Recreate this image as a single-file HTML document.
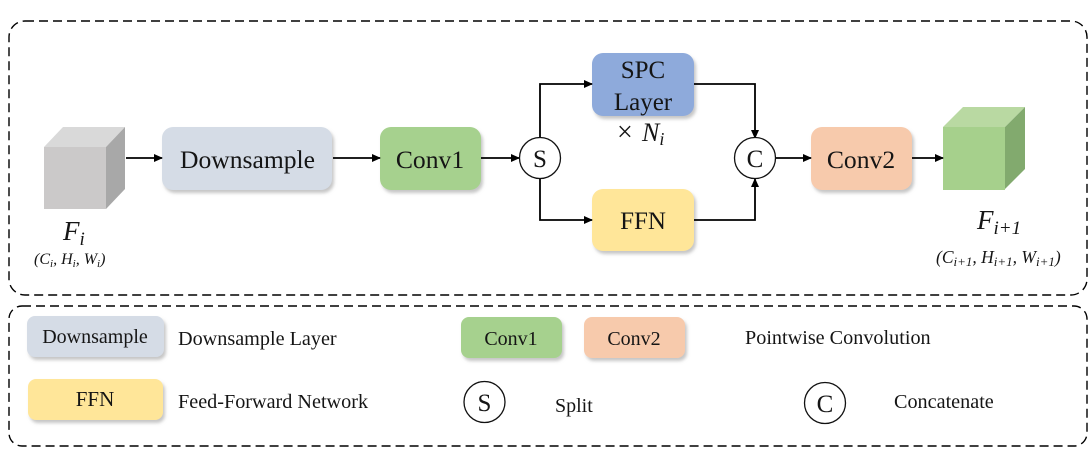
<!DOCTYPE html>
<html><head><meta charset="utf-8"><style>
html,body{margin:0;padding:0;background:#fff}
svg{display:block}
text{font-family:"Liberation Serif",serif;fill:#151515}
.m{font-style:italic}
</style></head><body>
<svg width="1092" height="464" viewBox="0 0 1092 464" xmlns="http://www.w3.org/2000/svg">
<defs>
<filter id="sh" x="-10%" y="-15%" width="125%" height="135%"><feGaussianBlur in="SourceAlpha" stdDeviation="1.5"/><feOffset dx="2" dy="3"/><feColorMatrix values="0 0 0 0 .35 0 0 0 0 .35 0 0 0 0 .35 0 0 0 .6 0"/><feMerge><feMergeNode/><feMergeNode in="SourceGraphic"/></feMerge></filter>
<marker id="a" markerWidth="9" markerHeight="8" refX="8" refY="4" orient="auto" markerUnits="userSpaceOnUse"><path d="M0,0L9,4L0,8Z" fill="#000"/></marker>
</defs>
<rect x="9" y="21" width="1078" height="274" rx="16" fill="none" stroke="#000" stroke-width="1.4" stroke-dasharray="9 5"/>
<rect x="9" y="306" width="1078" height="140" rx="13" fill="none" stroke="#000" stroke-width="1.4" stroke-dasharray="9 5"/>

<polygon points="44,147 63,127 125,127 106,147" fill="#d9d9d9"/>
<polygon points="106,147 125,127 125,189 106,209" fill="#a8a8a8"/>
<rect x="44" y="147" width="62" height="62" fill="#cbc9c9"/>
<polygon points="943,127 963,107 1025,107 1005,127" fill="#b9d9a2"/>
<polygon points="1005,127 1025,107 1025,169 1005,189" fill="#82aa6e"/>
<rect x="943" y="127" width="62" height="63" fill="#a6d08c"/>

<g filter="url(#sh)">
<rect x="162" y="127" width="170" height="63" rx="11" fill="#d5dce6"/>
<rect x="380" y="127" width="101" height="63" rx="11" fill="#a6d18e"/>
<rect x="592" y="53" width="102" height="63" rx="11" fill="#8eaadb"/>
<rect x="592" y="189" width="102" height="62" rx="11" fill="#ffe699"/>
<rect x="811" y="127" width="101" height="63" rx="11" fill="#f7caac"/>
<rect x="27" y="316" width="137" height="41" rx="8" fill="#d5dce6"/>
<rect x="28" y="379" width="135" height="41" rx="8" fill="#ffe699"/>
<rect x="461" y="317" width="101" height="41" rx="8" fill="#a6d18e"/>
<rect x="584" y="317" width="101" height="41" rx="8" fill="#f7caac"/>
</g>

<g fill="none" stroke="#000" stroke-width="1.8">
<path d="M126 158H162" marker-end="url(#a)"/>
<path d="M333 158H380" marker-end="url(#a)"/>
<path d="M481 158H519" marker-end="url(#a)"/>
<path d="M540 138V84H592" marker-end="url(#a)"/>
<path d="M540 179V220H592" marker-end="url(#a)"/>
<path d="M694 84H755V138" marker-end="url(#a)"/>
<path d="M694 220H755V179" marker-end="url(#a)"/>
<path d="M775 158H811" marker-end="url(#a)"/>
<path d="M912 158H943" marker-end="url(#a)"/>
</g>
<g fill="#fff" stroke="#111" stroke-width="1.3">
<circle cx="540" cy="158" r="20.5"/>
<circle cx="755" cy="158" r="20.5"/>
<circle cx="484.500" cy="402" r="20.500"/>
<circle cx="825" cy="403" r="20.500"/>
</g>

<g text-anchor="middle">
<text x="247.500" y="168" font-size="25.600">Downsample</text>
<text x="430" y="168" font-size="25.600">Conv1</text>
<text x="643" y="78" font-size="25">SPC</text>
<text x="643" y="110" font-size="25">Layer</text>
<text x="643" y="229" font-size="25">FFN</text>
<text x="861" y="168" font-size="25.600">Conv2</text>
<text x="540" y="167" font-size="25">S</text>
<text x="755" y="167" font-size="25">C</text>
<text x="95" y="343" font-size="20">Downsample</text>
<text x="95" y="406" font-size="21">FFN</text>
<text x="511" y="345" font-size="20">Conv1</text>
<text x="634" y="345" font-size="20">Conv2</text>
<text x="484.500" y="411" font-size="25">S</text>
<text x="825" y="412" font-size="25">C</text>
</g>
<text x="178" y="345" font-size="20.200">Downsample Layer</text>
<text x="178" y="408" font-size="20.200">Feed-Forward Network</text>
<text x="555" y="412" font-size="20">Split</text>
<text x="745" y="344" font-size="20.200">Pointwise Convolution</text>
<text x="894" y="408" font-size="20.200">Concatenate</text>

<text x="617" y="141" font-size="28">×</text>
<text class="m" x="642" y="141" font-size="26">N<tspan font-size="18" dy="4">i</tspan></text>
<text class="m" x="63" y="240" font-size="27">F<tspan font-size="19" dy="5">i</tspan></text>
<text class="m" x="34" y="264" font-size="16">(C<tspan font-size="11" dy="3">i</tspan><tspan dy="-3">, H</tspan><tspan font-size="11" dy="3">i</tspan><tspan dy="-3">, W</tspan><tspan font-size="11" dy="3">i</tspan><tspan dy="-3">)</tspan></text>
<text class="m" x="977" y="229" font-size="27">F<tspan font-size="19" dy="5">i+1</tspan></text>
<text class="m" x="936" y="263" font-size="17.500">(C<tspan font-size="13" dy="3">i+1</tspan><tspan dy="-3">, H</tspan><tspan font-size="13" dy="3">i+1</tspan><tspan dy="-3">, W</tspan><tspan font-size="13" dy="3">i+1</tspan><tspan dy="-3">)</tspan></text>
</svg>
</body></html>
